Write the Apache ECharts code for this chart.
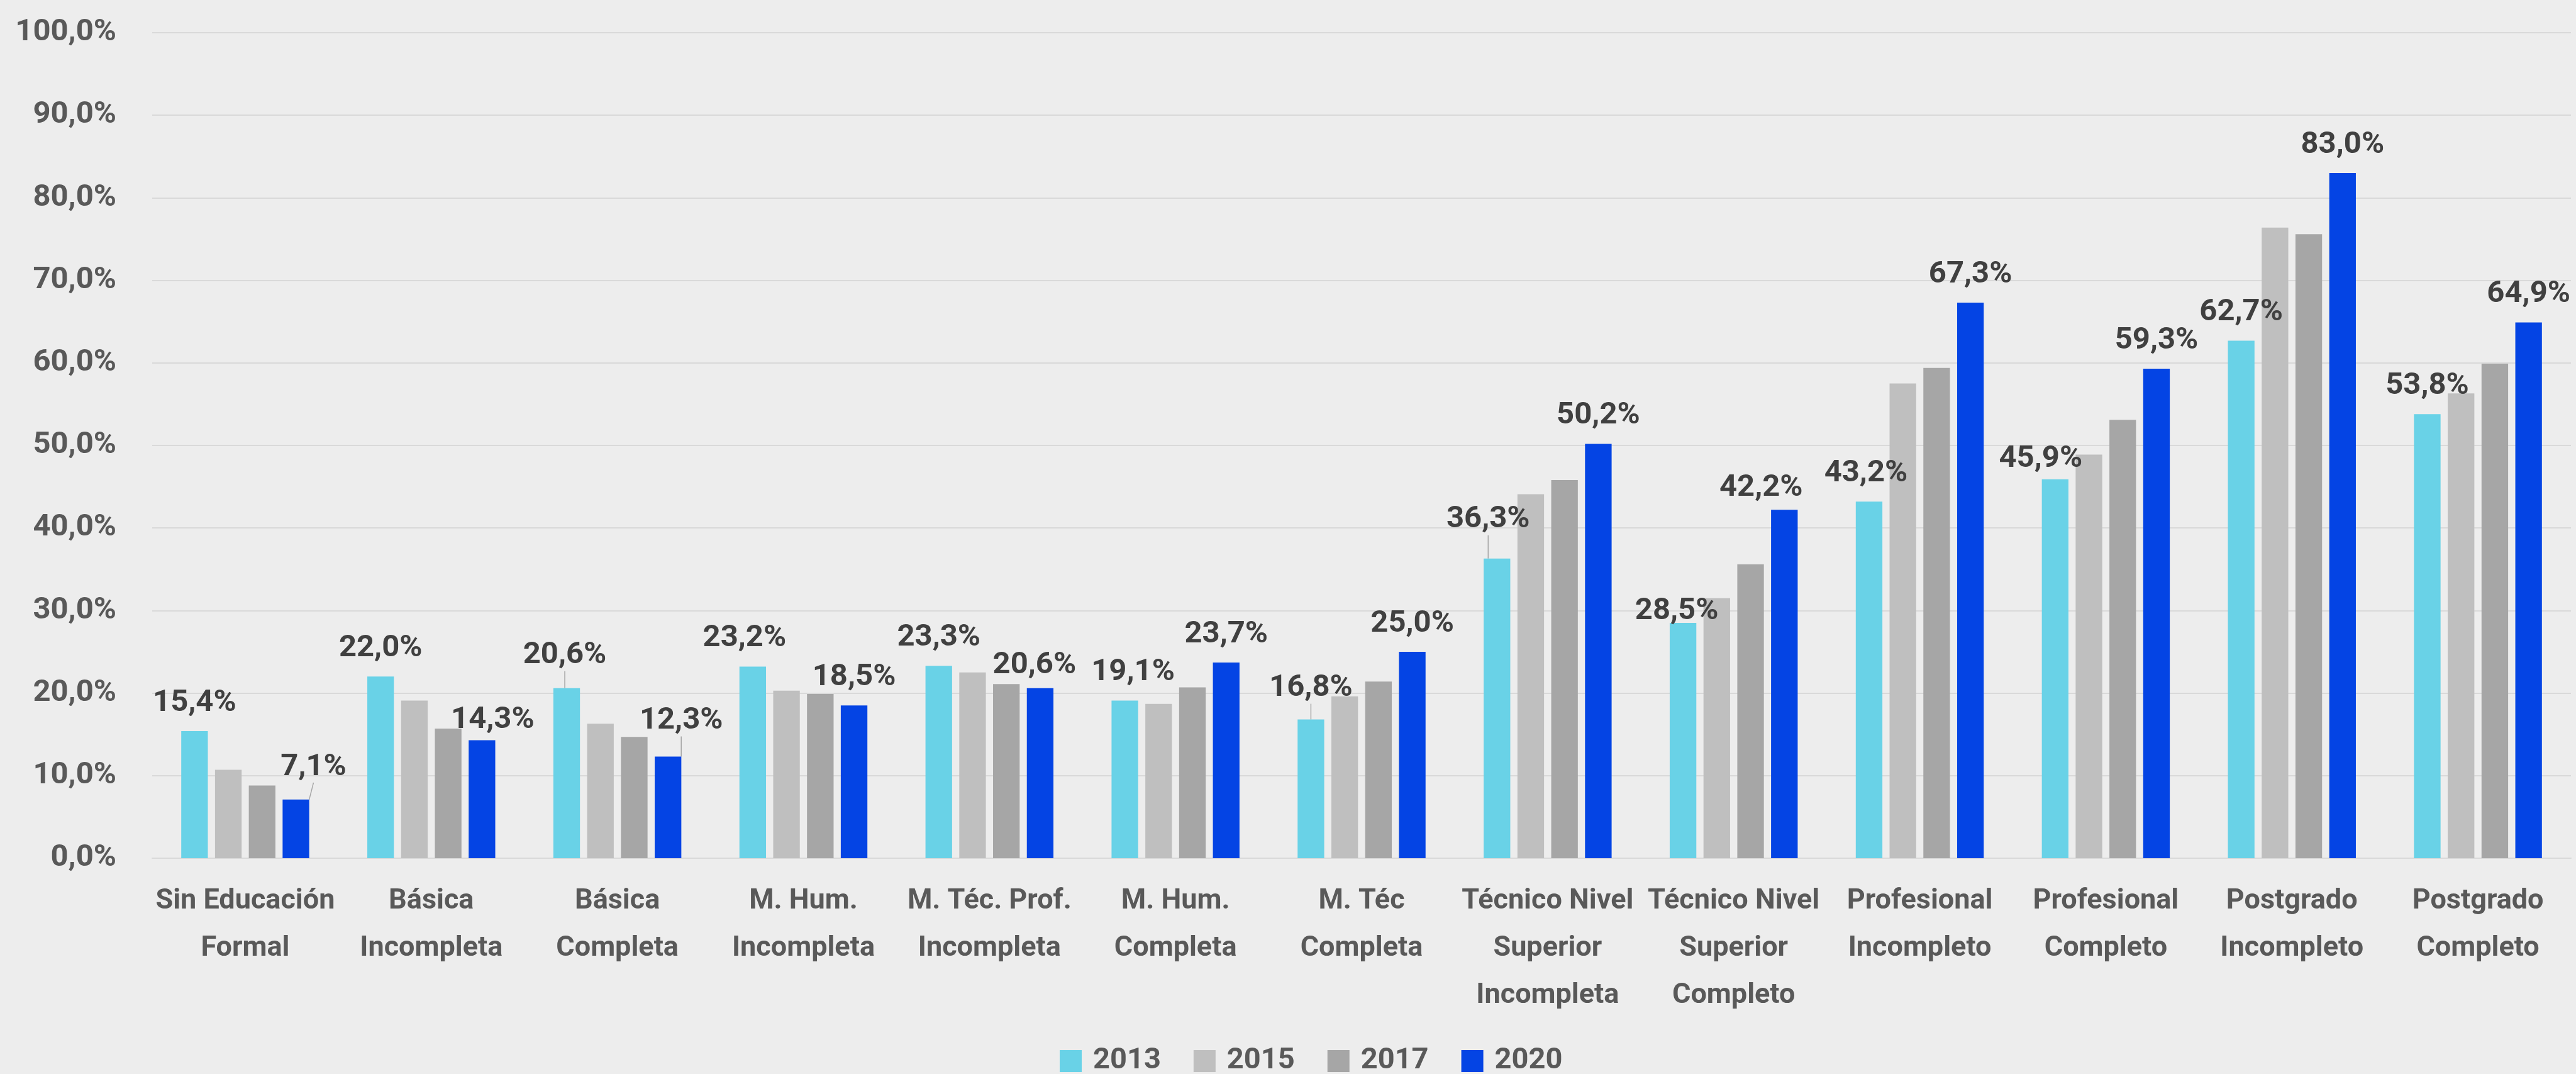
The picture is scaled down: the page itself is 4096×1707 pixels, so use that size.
<!DOCTYPE html>
<html>
<head>
<meta charset="utf-8">
<script src="https://cdn.jsdelivr.net/npm/echarts@6/dist/echarts.min.js"></script>
<style>
  html, body { margin: 0; padding: 0; background: #EDEDED; }
  #chart { width: 4096px; height: 1707px; }
</style>
</head>
<body>
<div id="chart"></div>
<script>
const categories = [
  'Sin Educación\nFormal', 'Básica\nIncompleta', 'Básica\nCompleta', 'M. Hum.\nIncompleta',
  'M. Téc. Prof.\nIncompleta', 'M. Hum.\nCompleta', 'M. Téc\nCompleta',
  'Técnico Nivel\nSuperior\nIncompleta', 'Técnico Nivel\nSuperior\nCompleto',
  'Profesional\nIncompleto', 'Profesional\nCompleto', 'Postgrado\nIncompleto', 'Postgrado\nCompleto'
]
const years = ['2013', '2015', '2017', '2020']
const values2013 = [15.4, 22.0, 20.6, 23.2, 23.3, 19.1, 16.8, 36.3, 28.5, 43.2, 45.9, 62.7, 53.8]
const values2015 = [10.7, 19.1, 16.3, 20.3, 22.5, 18.7, 19.6, 44.1, 31.5, 57.5, 48.9, 76.4, 56.3]
const values2017 = [8.8, 15.7, 14.7, 19.9, 21.1, 20.7, 21.4, 45.8, 35.6, 59.4, 53.1, 75.6, 59.9]
const values2020 = [7.1, 14.3, 12.3, 18.5, 20.6, 23.7, 25.0, 50.2, 42.2, 67.3, 59.3, 83.0, 64.9]

// label nudges (px) like the hand-placed labels of the original, [dx, dy, leader line]
const shift2013 = [[0,0,0],[0,0,0],[-3,-7,1],[-13,0,0],[0,0,0],[13,0,0],[0,-5,1],[-14,-17,1],[-10,26,0],[-5,0,0],[-23,12,0],[0,0,0],[0,0,0]]
const shift2020 = [[28,-7,1],[17,13,0],[21,-12,1],[0,0,0],[-9,9,0],[0,0,0],[0,0,0],[0,0,0],[-37,10,0],[0,0,0],[0,0,0],[0,0,0],[0,0,0]]

const colors = ['#69D2E7', '#BFBFBF', '#A6A6A6', '#0444E4']
const fontFamily = 'Roboto, "DejaVu Sans Condensed", sans-serif'
const fmt = v => v.toFixed(1).replace('.', ',') + '%'

function makeSeries(name, values, color, shifts) {
  const s = {
    name: name,
    type: 'bar',
    barWidth: 42.3,
    barGap: '27%',
    itemStyle: { color: color },
    data: values.map((v, i) => {
      const item = { value: v }
      if (shifts && shifts[i][2]) {
        item.labelLine = { show: true }
      }
      return item
    })
  }
  if (shifts) {
    s.label = {
      show: true,
      position: 'top',
      distance: 20,
      color: '#404040',
      fontFamily: fontFamily,
      fontWeight: 'bold',
      fontSize: 49,
      formatter: p => fmt(p.value)
    }
    s.labelLine = { show: false, lineStyle: { color: '#A6A6A6', width: 1.5 } }
    s.labelLayout = p => ({ dx: shifts[p.dataIndex][0], dy: shifts[p.dataIndex][1] })
  }
  return s
}

const chart = echarts.init(document.getElementById('chart'))
chart.setOption({
  backgroundColor: '#EDEDED',
  animation: false,
  grid: { left: 242, right: 8, top: 52, bottom: 343, containLabel: false },
  legend: {
    data: years,
    left: 1680,
    top: 1658,
    icon: 'rect',
    itemWidth: 35,
    itemHeight: 35,
    itemGap: 52,
    textStyle: {
      color: '#595959',
      fontFamily: fontFamily,
      fontWeight: 'bold',
      fontSize: 47,
      padding: [0, 0, 0, 13]
    }
  },
  xAxis: {
    type: 'category',
    data: categories,
    axisLine: { lineStyle: { color: '#D9D9D9', width: 2 } },
    axisTick: { show: false },
    axisLabel: {
      color: '#595959',
      fontFamily: fontFamily,
      fontWeight: 'bold',
      fontSize: 45,
      lineHeight: 75,
      margin: 31,
      interval: 0
    }
  },
  yAxis: {
    type: 'value',
    min: 0,
    max: 100,
    interval: 10,
    axisLine: { show: false },
    axisTick: { show: false },
    splitLine: { lineStyle: { color: '#D9D9D9', width: 2 } },
    axisLabel: {
      color: '#595959',
      fontFamily: fontFamily,
      fontWeight: 'bold',
      fontSize: 49,
      margin: 57,
      formatter: v => fmt(v)
    }
  },
  series: [
    makeSeries('2013', values2013, colors[0], shift2013),
    makeSeries('2015', values2015, colors[1], null),
    makeSeries('2017', values2017, colors[2], null),
    makeSeries('2020', values2020, colors[3], shift2020)
  ]
})
</script>
</body>
</html>
